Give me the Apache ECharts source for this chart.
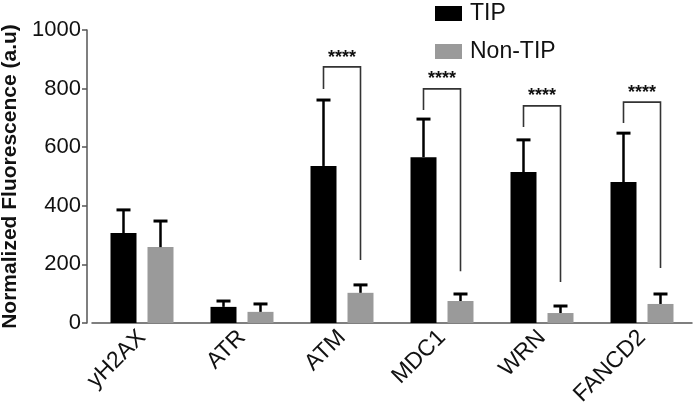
<!DOCTYPE html>
<html>
<head>
<meta charset="utf-8">
<script src="https://cdn.jsdelivr.net/npm/echarts@6/dist/echarts.min.js"></script>
<style>
  html, body { margin: 0; padding: 0; background: #fff; }
  #chart { width: 693px; height: 413px; }
</style>
</head>
<body>
<div id="chart"></div>
<script>
/* ---------------- DATA ---------------- */

const CATEGORIES = ["yH2AX", "ATR", "ATM", "MDC1", "WRN", "FANCD2"];

const TIP = [307, 55, 536, 566, 515, 481];
const TIP_SD = [79, 20, 225, 130, 110, 167];

const NON_TIP = [259, 38, 103, 75, 34, 65];
const NON_TIP_SD = [89, 27, 27, 24, 24, 34];

const Y_TICKS = [0, 200, 400, 600, 800, 1000];

// significance brackets: [category index, bracket top, left leg start, right leg end, stars y]
const SIG_CATS = [2, 3, 4, 5];
const SIG_TOP = [874, 799, 741, 754];
const SIG_LEFT = [799, 727, 669, 683];
const SIG_RIGHT = [215, 177, 140, 188];
const SIG_STARS = [906, 831, 773, 786];

/* ---------------- STYLE ---------------- */

const FONT = "Liberation Sans, Arial, sans-serif";
const BAR_W = 26;
const BAR_GAP = 11;
const OFFSET = (BAR_W + BAR_GAP) / 2;

const chart = echarts.init(document.getElementById("chart"));

function errorBars(values, sds, dx) {
    return {
        type: "custom",
        silent: true,
        z: 3,
        data: values.map((v, i) => [i, v, v + sds[i]]),
        renderItem: (params, api) => {
            const base = api.coord([api.value(0), api.value(1)]);
            const top = api.coord([api.value(0), api.value(2)]);
            const x = base[0] + dx;
            return {
                type: "group",
                children: [
                    {
                        type: "line",
                        shape: { x1: x, y1: base[1], x2: x, y2: top[1] },
                        style: { stroke: "#000", lineWidth: 2.5 },
                    },
                    {
                        type: "line",
                        shape: { x1: x - 7, y1: top[1], x2: x + 7, y2: top[1] },
                        style: { stroke: "#000", lineWidth: 3 },
                    },
                ],
            };
        },
    };
}

const option = {
    animation: false,
    grid: { left: 92, right: 1, top: 30, bottom: 90, outerBoundsMode: "none", containLabel: false },
    legend: {
        orient: "vertical",
        left: 430,
        top: -3,
        itemWidth: 27,
        itemHeight: 15,
        itemGap: 15,
        icon: "rect",
        textStyle: { fontFamily: FONT, fontSize: 23, color: "#111", padding: [0, 0, 0, 3] },
        data: ["TIP", "Non-TIP"],
    },
    xAxis: {
        type: "category",
        data: CATEGORIES,
        axisLine: { lineStyle: { color: "#555", width: 1.5 } },
        axisTick: { show: false },
        axisLabel: {
            rotate: 45,
            margin: 11,
            fontFamily: FONT,
            fontSize: 23,
            color: "#111",
        },
    },
    yAxis: {
        type: "value",
        min: 0,
        max: 1000,
        interval: 200,
        offset: 5,
        name: "Normalized Fluorescence (a.u)",
        nameLocation: "middle",
        nameGap: 64,
        nameTextStyle: { fontFamily: FONT, fontSize: 21, fontWeight: "bold", color: "#111" },
        axisLine: { show: true, lineStyle: { color: "#555", width: 1.5 } },
        axisTick: { show: true, length: 5, lineStyle: { color: "#555", width: 1.5 } },
        splitLine: { show: false },
        axisLabel: {
            margin: 6,
            fontFamily: FONT,
            fontSize: 22,
            color: "#111",
            formatter: (v) => (Y_TICKS.includes(v) ? String(v) : ""),
        },
    },
    series: [
        {
            name: "TIP",
            type: "bar",
            data: TIP,
            barWidth: BAR_W,
            barGap: (BAR_GAP / BAR_W * 100) + "%",
            itemStyle: { color: "#000" },
        },
        {
            name: "Non-TIP",
            type: "bar",
            data: NON_TIP,
            barWidth: BAR_W,
            itemStyle: { color: "#9a9a9a" },
        },
        errorBars(TIP, TIP_SD, -OFFSET),
        errorBars(NON_TIP, NON_TIP_SD, OFFSET),
        {
            type: "custom",
            silent: true,
            z: 4,
            data: SIG_CATS.map((c, i) => [c, SIG_TOP[i], SIG_LEFT[i], SIG_RIGHT[i], SIG_STARS[i]]),
            renderItem: (params, api) => {
                const cat = api.value(0);
                const top = api.coord([cat, api.value(1)]);
                const left = api.coord([cat, api.value(2)]);
                const right = api.coord([cat, api.value(3)]);
                const stars = api.coord([cat, api.value(4)]);
                const lx = top[0] - OFFSET;
                const rx = top[0] + OFFSET;
                return {
                    type: "group",
                    children: [
                        {
                            type: "polyline",
                            shape: { points: [[lx, left[1]], [lx, top[1]], [rx, top[1]], [rx, right[1]]] },
                            style: { stroke: "#333", lineWidth: 1.6, fill: null },
                        },
                        {
                            type: "text",
                            style: {
                                text: "****",
                                x: top[0],
                                y: stars[1],
                                align: "center",
                                verticalAlign: "middle",
                                font: "bold 18px " + FONT,
                                fill: "#111",
                            },
                        },
                    ],
                };
            },
        },
    ],
};

chart.setOption(option);
</script>
</body>
</html>
